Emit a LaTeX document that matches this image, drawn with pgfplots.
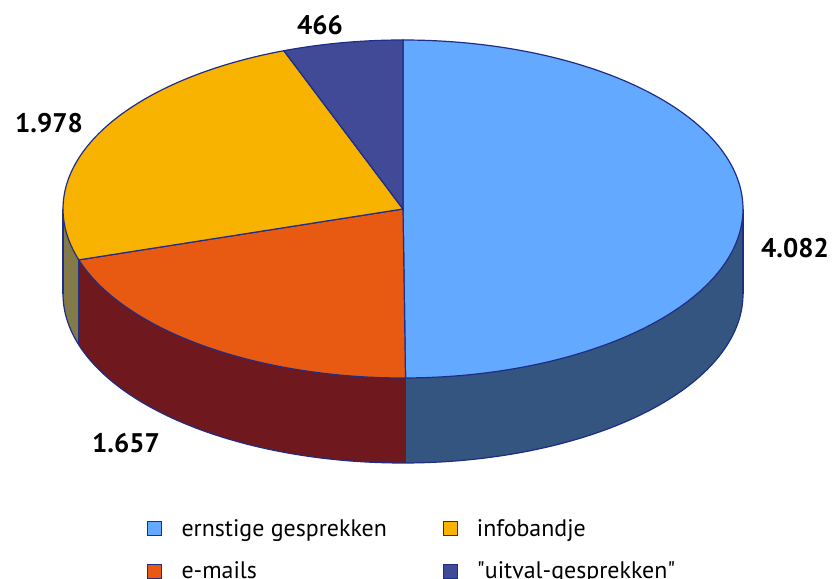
\documentclass[border=0pt]{standalone}
\usepackage{pgfplots}
\pgfplotsset{compat=1.18}
\usepgfplotslibrary{fillbetween}
\usepackage{fontspec}
\setmainfont{PT Sans}
\definecolor{cBlue}{HTML}{62A9FF}
\definecolor{sBlue}{HTML}{33557F}
\definecolor{cOrange}{HTML}{E85A12}
\definecolor{sOrange}{HTML}{6F181D}
\definecolor{cYellow}{HTML}{F8B300}
\definecolor{sYellow}{HTML}{827A48}
\definecolor{cNavy}{HTML}{414A97}
\definecolor{cLine}{HTML}{1F2D87}
\pgfplotsset{
  sqlegend/.style={legend image code/.code={\draw[##1, line width=0.7bp] (0bp,-7bp) rectangle (14bp,7bp); \path[draw=none, fill=none] (0bp,0bp) -- (34bp,0bp);}},
}
\begin{document}
\begin{tikzpicture}
\pgfmathsetmacro{\vA}{4082}
\pgfmathsetmacro{\vB}{1657}
\pgfmathsetmacro{\vC}{1978}
\pgfmathsetmacro{\vD}{466}
\pgfmathsetmacro{\tot}{\vA+\vB+\vC+\vD}
\pgfmathsetmacro{\aO}{90}
\pgfmathsetmacro{\aA}{90-360*(\vA/\tot)}
\pgfmathsetmacro{\aB}{\aA-360*(\vB/\tot)}
\pgfmathsetmacro{\aC}{\aB-360*(\vC/\tot)}
\pgfmathsetmacro{\aD}{\aC-360*(\vD/\tot)}
\def\cx{403}\def\cy{370}\def\rx{340}\def\ry{169}\def\dd{85}
\begin{axis}[scale only axis, width=833bp, height=579bp,
  xmin=0, xmax=833, ymin=0, ymax=579, hide axis, clip=false,
  sqlegend,
  legend columns=2,
  legend cell align=left,
  legend style={draw=none, fill=none, at={(axis cs:147,29)}, anchor=west, inner sep=0pt,
    nodes={inner xsep=0pt},
    font=\fontsize{24}{28}\selectfont,
    /tikz/every even column/.append style={column sep=61bp},
    row sep=20bp},
]
% --- side walls ---
\addplot[draw=none, name path=tA, domain=\aA:0, samples=80, forget plot] ({\cx+\rx*cos(x)},{\cy+\ry*sin(x)});
\addplot[draw=none, name path=bA, domain=\aA:0, samples=80, forget plot] ({\cx+\rx*cos(x)},{\cy-\dd+\ry*sin(x)});
\addplot[fill=sBlue, draw=none, forget plot] fill between[of=tA and bA];
\addplot[draw=none, name path=tB, domain=\aB:\aA, samples=80, forget plot] ({\cx+\rx*cos(x)},{\cy+\ry*sin(x)});
\addplot[draw=none, name path=bB, domain=\aB:\aA, samples=80, forget plot] ({\cx+\rx*cos(x)},{\cy-\dd+\ry*sin(x)});
\addplot[fill=sOrange, draw=none, forget plot] fill between[of=tB and bB];
\addplot[draw=none, name path=tC, domain=-180:\aB, samples=30, forget plot] ({\cx+\rx*cos(x)},{\cy+\ry*sin(x)});
\addplot[draw=none, name path=bC, domain=-180:\aB, samples=30, forget plot] ({\cx+\rx*cos(x)},{\cy-\dd+\ry*sin(x)});
\addplot[fill=sYellow, draw=none, forget plot] fill between[of=tC and bC];
% side outlines
\addplot[draw=cLine, line width=1.2bp, domain=-180:0, samples=150, forget plot] ({\cx+\rx*cos(x)},{\cy-\dd+\ry*sin(x)});
\addplot[draw=cLine, line width=1.2bp, domain=0:\dd, samples=2, forget plot] ({\cx+\rx*cos(0)},{\cy-x});
\addplot[draw=cLine, line width=1.2bp, domain=0:\dd, samples=2, forget plot] ({\cx+\rx*cos(180)},{\cy-x});
\addplot[draw=cLine, line width=1.2bp, domain=0:\dd, samples=2, forget plot] ({\cx+\rx*cos(\aA)},{\cy+\ry*sin(\aA)-x});
\addplot[draw=cLine, line width=1.2bp, domain=0:\dd, samples=2, forget plot] ({\cx+\rx*cos(\aB)},{\cy+\ry*sin(\aB)-x});
% --- top faces ---
\addplot[fill=cBlue, draw=cLine, line width=1.2bp, domain=\aA:\aO, samples=150, forget plot] ({\cx+\rx*cos(x)},{\cy+\ry*sin(x)}) -- (axis cs:\cx,\cy) -- cycle;
\addplot[fill=cOrange, draw=cLine, line width=1.2bp, domain=\aB:\aA, samples=80, forget plot] ({\cx+\rx*cos(x)},{\cy+\ry*sin(x)}) -- (axis cs:\cx,\cy) -- cycle;
\addplot[fill=cYellow, draw=cLine, line width=1.2bp, domain=\aC:\aB, samples=80, forget plot] ({\cx+\rx*cos(x)},{\cy+\ry*sin(x)}) -- (axis cs:\cx,\cy) -- cycle;
\addplot[fill=cNavy, draw=cLine, line width=1.2bp, domain=\aD:\aC, samples=30, forget plot] ({\cx+\rx*cos(x)},{\cy+\ry*sin(x)}) -- (axis cs:\cx,\cy) -- cycle;
% --- labels ---
\node[font=\bfseries\fontsize{27}{30}\selectfont] at (axis cs:320,554) {466};
\node[font=\bfseries\fontsize{27}{30}\selectfont] at (axis cs:49,456) {1.978};
\node[font=\bfseries\fontsize{27}{30}\selectfont] at (axis cs:795,331) {4.082};
\node[font=\bfseries\fontsize{27}{30}\selectfont] at (axis cs:126,136) {1.657};
% --- legend ---
\addlegendimage{fill=cBlue, draw=cLine}
\addlegendentry{\makebox[200bp][l]{ernstige gesprekken}}
\addlegendimage{fill=cYellow, draw=cLine}
\addlegendentry{infobandje}
\addlegendimage{fill=cOrange, draw=cLine}
\addlegendentry{\makebox[200bp][l]{e-mails}}
\addlegendimage{fill=cNavy, draw=cLine}
\addlegendentry{\textquotedbl uitval-gesprekken\textquotedbl}
\end{axis}
\pgfresetboundingbox
\path (current axis.south west) rectangle (current axis.north east);
\end{tikzpicture}
\end{document}
